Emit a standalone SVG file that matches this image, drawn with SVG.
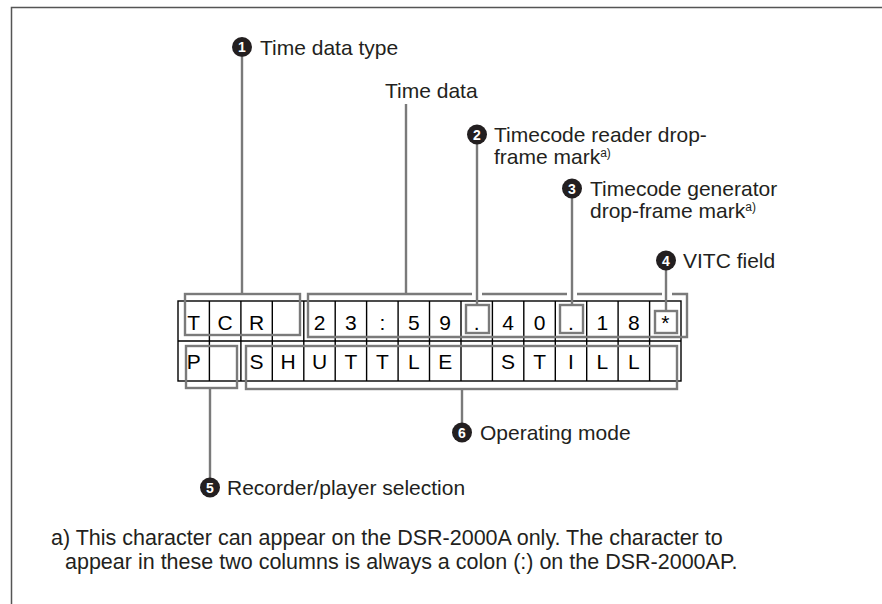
<svg xmlns="http://www.w3.org/2000/svg" width="882" height="604" viewBox="0 0 882 604">
<style>
.t{font-family:"Liberation Sans",Arial,sans-serif;font-size:21px;fill:#231f20}
.f{font-family:"Liberation Sans",Arial,sans-serif;font-size:21.5px;fill:#231f20}
.c{font-family:"Liberation Sans",Arial,sans-serif;font-size:21px;fill:#000;text-anchor:middle}
.sup{font-size:12px}
.g{fill:none;stroke:#7a7a7a;stroke-width:2.4}
.grid{fill:none;stroke:#000;stroke-width:1.4}
.bul{fill:#231f20}
.bn{font-family:"Liberation Sans",Arial,sans-serif;font-size:14px;font-weight:bold;fill:#fff;text-anchor:middle}
</style>
<rect width="882" height="604" fill="#fff"/>
<path d="M11.5 604V7.5H882" fill="none" stroke="#555" stroke-width="1.5"/>

<g id="grid">
<rect class="grid" x="178" y="301" width="503" height="80"/>
<path class="grid" d="M178 341H681M209.4 301V381M240.9 301V381M272.3 301V381M303.8 301V381M335.2 301V381M366.6 301V381M398.1 301V381M429.5 301V381M461 301V381M492.4 301V381M523.8 301V381M555.3 301V381M586.7 301V381M618.1 301V381M649.6 301V381"/>
<g class="c">
<text x="193.7" y="330">T</text><text x="225.2" y="330">C</text><text x="256.6" y="330">R</text>
<text x="319.5" y="330">2</text><text x="350.9" y="330">3</text><text x="382.4" y="330">:</text><text x="413.8" y="330">5</text><text x="445.2" y="330">9</text><text x="476.7" y="330">.</text><text x="508.1" y="330">4</text><text x="539.6" y="330">0</text><text x="571" y="330">.</text><text x="602.4" y="330">1</text><text x="633.9" y="330">8</text><text x="665.3" y="330">*</text>
<text x="193.7" y="369">P</text><text x="256.6" y="369">S</text><text x="288" y="369">H</text><text x="319.5" y="369">U</text><text x="350.9" y="369">T</text><text x="382.4" y="369">T</text><text x="413.8" y="369">L</text><text x="445.2" y="369">E</text><text x="508.1" y="369">S</text><text x="539.6" y="369">T</text><text x="571" y="369">I</text><text x="602.4" y="369">L</text><text x="633.9" y="369">L</text>
</g>
</g>

<g id="connectors">
<rect class="g" x="185" y="294" width="115" height="41"/>
<path class="g" d="M472 294H308V337H687V294H672M662 294H577M567 294H482"/>
<rect class="g" x="466" y="305" width="23" height="28"/>
<rect class="g" x="560" y="305" width="23" height="28"/>
<rect class="g" x="655" y="311" width="22" height="22"/>
<rect class="g" x="186" y="346" width="51" height="42"/>
<rect class="g" x="246" y="346" width="431" height="43"/>
<path class="g" d="M242 57V294M406 104V294M477 144V305M572 198V305M666 270V311M210 389V478M462 389V423"/>
</g>

<g id="n1"><circle class="bul" cx="242" cy="47" r="10"/><text class="bn" x="242" y="52">1</text><text class="t" x="260" y="55">Time data type</text></g>
<g id="n-time"><text class="t" x="385" y="98">Time data</text></g>
<g id="n2"><circle class="bul" cx="477" cy="134.5" r="10"/><text class="bn" x="477" y="139.5">2</text><text class="t" x="494" y="142">Timecode reader drop-</text><text class="t" x="494" y="164">frame mark<tspan class="sup" dy="-7">a)</tspan></text></g>
<g id="n3"><circle class="bul" cx="572" cy="188.5" r="10"/><text class="bn" x="572" y="193.5">3</text><text class="t" x="590" y="196">Timecode generator</text><text class="t" x="590" y="218">drop-frame mark<tspan class="sup" dy="-7">a)</tspan></text></g>
<g id="n4"><circle class="bul" cx="666" cy="260.5" r="10"/><text class="bn" x="666" y="265.5">4</text><text class="t" x="683" y="268">VITC field</text></g>
<g id="n6"><circle class="bul" cx="462" cy="432.5" r="10"/><text class="bn" x="462" y="437.5">6</text><text class="t" x="480" y="440">Operating mode</text></g>
<g id="n5"><circle class="bul" cx="210" cy="487.5" r="10"/><text class="bn" x="210" y="492.5">5</text><text class="t" x="227" y="495">Recorder/player selection</text></g>

<g id="footnote">
<text class="f" x="51" y="545">a) This character can appear on the DSR-2000A only. The character to</text>
<text class="f" x="65" y="569">appear in these two columns is always a colon (:) on the DSR-2000AP.</text>
</g>
</svg>
